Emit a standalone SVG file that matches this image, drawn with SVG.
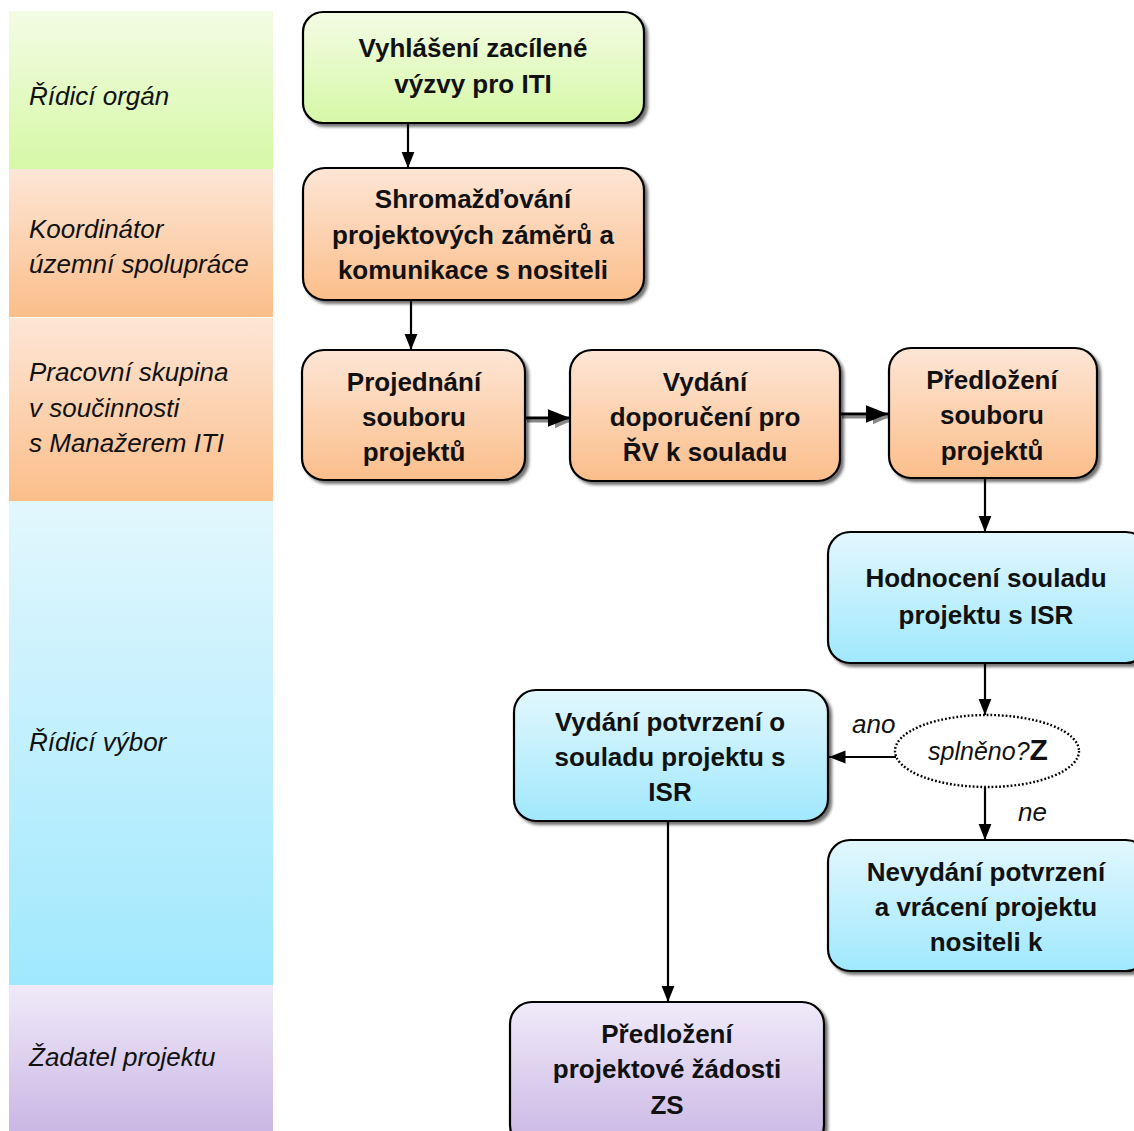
<svg xmlns="http://www.w3.org/2000/svg" width="1134" height="1131" viewBox="0 0 1134 1131">
<defs>
<linearGradient id="gGreen" x1="0" y1="0" x2="0" y2="1"><stop offset="0" stop-color="#f3fce4"/><stop offset="1" stop-color="#d6f8a6"/></linearGradient>
<linearGradient id="gOrange" x1="0" y1="0" x2="0" y2="1"><stop offset="0" stop-color="#fde6d6"/><stop offset="1" stop-color="#fbbe8a"/></linearGradient>
<linearGradient id="gBlue" x1="0" y1="0" x2="0" y2="1"><stop offset="0" stop-color="#e2f7fd"/><stop offset="1" stop-color="#a0e8fd"/></linearGradient>
<linearGradient id="gPurple" x1="0" y1="0" x2="0" y2="1"><stop offset="0" stop-color="#f0eaf9"/><stop offset="1" stop-color="#cab7e4"/></linearGradient>
<filter id="sh" x="-10%" y="-10%" width="125%" height="130%"><feDropShadow dx="3" dy="3" stdDeviation="1.5" flood-color="#000" flood-opacity="0.55"/></filter>
<marker id="ah" viewBox="0 0 10 10" preserveAspectRatio="none" refX="10" refY="5" markerWidth="7.5" markerHeight="6" markerUnits="strokeWidth" orient="auto"><path d="M0,0 L10,5 L0,10 z" fill="#000"/></marker>
<marker id="ahs" viewBox="0 0 10 10" preserveAspectRatio="none" refX="10" refY="5" markerWidth="5.5" markerHeight="5" markerUnits="strokeWidth" orient="auto"><path d="M0,0 L10,5 L0,10 z" fill="#888"/></marker>
<style>
.lane{stroke:none}
.lt{font-family:"Liberation Sans",Arial,sans-serif;font-style:italic;font-size:26px;fill:#111}
.box{stroke:#000;stroke-width:2.2;filter:url(#sh)}
.nt{font-family:"Liberation Sans",Arial,sans-serif;font-weight:bold;font-size:26px;fill:#111;text-anchor:middle}
.con{stroke:#000;stroke-width:2.2;fill:none;marker-end:url(#ah)}
.shl{stroke:#888;stroke-width:3;fill:none;marker-end:url(#ahs)}
.lbl{font-family:"Liberation Sans",Arial,sans-serif;font-style:italic;font-size:26px;fill:#111}
</style>
</defs>
<rect width="1134" height="1131" fill="#fff"/>
<g id="lanes">
<rect class="lane" x="9" y="11" width="264" height="158" fill="url(#gGreen)"/>
<rect class="lane" x="9" y="169" width="264" height="148" fill="url(#gOrange)"/>
<rect class="lane" x="9" y="318" width="264" height="183" fill="url(#gOrange)"/>
<rect class="lane" x="9" y="501" width="264" height="484" fill="url(#gBlue)"/>
<rect class="lane" x="9" y="985" width="264" height="146" fill="url(#gPurple)"/>
<text class="lt" x="29" y="105">Řídicí orgán</text>
<text class="lt" x="29" y="238">Koordinátor</text>
<text class="lt" x="29" y="273">územní spolupráce</text>
<text class="lt" x="29" y="381">Pracovní skupina</text>
<text class="lt" x="29" y="417">v součinnosti</text>
<text class="lt" x="29" y="452">s Manažerem ITI</text>
<text class="lt" x="29" y="751">Řídicí výbor</text>
<text class="lt" x="29" y="1066">Žadatel projektu</text>
</g>
<g id="connectors">
<line class="con" x1="408" y1="123" x2="408" y2="168"/>
<line class="con" x1="411" y1="300" x2="411" y2="350"/>
<line class="shl" x1="527" y1="421" x2="571" y2="421"/>
<line class="con" x1="525" y1="418" x2="570" y2="418" style="stroke-width:3"/>
<line class="shl" x1="842" y1="417" x2="889" y2="417"/>
<line class="con" x1="840" y1="414" x2="888" y2="414" style="stroke-width:3"/>
<line class="con" x1="985" y1="478" x2="985" y2="532"/>
<line class="con" x1="985" y1="663" x2="985" y2="715"/>
<line class="con" x1="896" y1="757" x2="829" y2="757"/>
<line class="con" x1="985" y1="787" x2="985" y2="840"/>
<line class="con" x1="668" y1="821" x2="668" y2="1002"/>
<text class="lbl" x="852" y="733">ano</text>
<text class="lbl" x="1018" y="821">ne</text>
</g>
<g id="n1"><rect class="box" x="303" y="12" width="341" height="111" rx="20" fill="url(#gGreen)"/>
<text class="nt" x="473" y="57">Vyhlášení zacílené</text><text class="nt" x="473" y="93">výzvy pro ITI</text></g>
<g id="n2"><rect class="box" x="303" y="168" width="341" height="132" rx="22" fill="url(#gOrange)"/>
<text class="nt" x="473" y="208">Shromažďování</text><text class="nt" x="473" y="244">projektových záměrů a</text><text class="nt" x="473" y="279">komunikace s nositeli</text></g>
<g id="n3"><rect class="box" x="302" y="350" width="223" height="130" rx="22" fill="url(#gOrange)"/>
<text class="nt" x="414" y="391">Projednání</text><text class="nt" x="414" y="426">souboru</text><text class="nt" x="414" y="461">projektů</text></g>
<g id="n4"><rect class="box" x="570" y="350" width="270" height="131" rx="22" fill="url(#gOrange)"/>
<text class="nt" x="705" y="391">Vydání</text><text class="nt" x="705" y="426">doporučení pro</text><text class="nt" x="705" y="461">ŘV k souladu</text></g>
<g id="n5"><rect class="box" x="889" y="348" width="208" height="130" rx="22" fill="url(#gOrange)"/>
<text class="nt" x="992" y="389">Předložení</text><text class="nt" x="992" y="424">souboru</text><text class="nt" x="992" y="460">projektů</text></g>
<g id="n6"><rect class="box" x="828" y="532" width="320" height="131" rx="22" fill="url(#gBlue)"/>
<text class="nt" x="986" y="587">Hodnocení souladu</text><text class="nt" x="986" y="624">projektu s ISR</text></g>
<g id="n7"><rect class="box" x="514" y="690" width="314" height="131" rx="22" fill="url(#gBlue)"/>
<text class="nt" x="670" y="731">Vydání potvrzení o</text><text class="nt" x="670" y="766">souladu projektu s</text><text class="nt" x="670" y="801">ISR</text></g>
<g id="n8"><ellipse cx="987" cy="751" rx="92" ry="36" fill="#fff" stroke="#000" stroke-width="2.4" stroke-dasharray="1.8 2"/>
<text x="988" y="760" text-anchor="middle" font-family="Liberation Sans, Arial, sans-serif" fill="#111"><tspan font-style="italic" font-size="25">splněno?</tspan><tspan font-weight="bold" font-size="30">Z</tspan></text></g>
<g id="n9"><rect class="box" x="828" y="840" width="320" height="131" rx="22" fill="url(#gBlue)"/>
<text class="nt" x="986" y="881">Nevydání potvrzení</text><text class="nt" x="986" y="916">a vrácení projektu</text><text class="nt" x="986" y="951">nositeli k</text></g>
<g id="n10"><rect class="box" x="510" y="1002" width="314" height="145" rx="22" fill="url(#gPurple)"/>
<text class="nt" x="667" y="1043">Předložení</text><text class="nt" x="667" y="1078">projektové žádosti</text><text class="nt" x="667" y="1114">ZS</text></g>
</svg>
